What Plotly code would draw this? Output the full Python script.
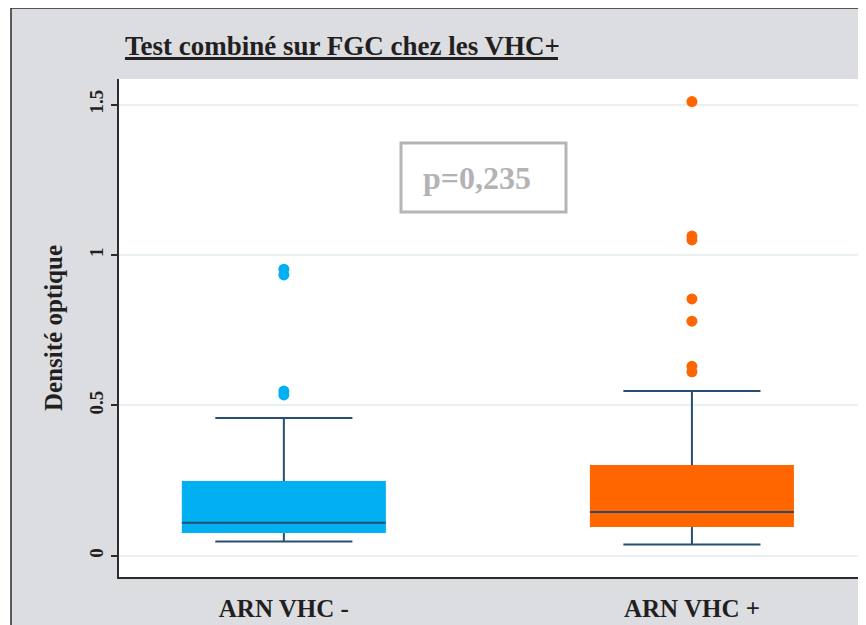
import plotly.graph_objects as go

categories = ["ARN VHC -", "ARN VHC +"]
positions = [1, 2]
q1 = [0.076, 0.096]
median = [0.110, 0.146]
q3 = [0.249, 0.302]
lower_whisker = [0.048, 0.038]
upper_whisker = [0.458, 0.548]
outliers_neg = [0.953, 0.934, 0.548, 0.535]
outliers_pos = [1.510, 1.063, 1.050, 0.854, 0.780, 0.630, 0.612]
colors = ["#00b0f0", "#ff6600"]
p_label = "p=0,235"

LINE = "#274e72"
FONT = "Liberation Serif"
TXT = "#231f20"
box_w = 0.50
cap_w = 0.336

# page has an 8px body margin: figure coordinates = page coordinates - 8
W, H = 858, 617
L, R, T, B = 111, 8, 71, 48
PW, PH = W - L - R, H - T - B


def px(xp):
    return (xp - 8 - L) / PW


def py(yp):
    return (H - B - (yp - 8)) / PH


fig = go.Figure()

# box bodies
for i in range(2):
    fig.add_trace(go.Bar(x=[positions[i]], base=[q1[i]], y=[q3[i] - q1[i]], width=box_w,
                         marker=dict(color=colors[i], line=dict(width=0)), showlegend=False,
                         hoverinfo="skip"))

# medians, whiskers, caps
for i in range(2):
    x = positions[i]
    segs = [
        ([x - box_w / 2, x + box_w / 2], [median[i], median[i]]),
        ([x, x], [q3[i], upper_whisker[i]]),
        ([x, x], [q1[i], lower_whisker[i]]),
        ([x - cap_w / 2, x + cap_w / 2], [upper_whisker[i], upper_whisker[i]]),
        ([x - cap_w / 2, x + cap_w / 2], [lower_whisker[i], lower_whisker[i]]),
    ]
    for xs, ys in segs:
        fig.add_trace(go.Scatter(x=xs, y=ys, mode="lines", line=dict(color=LINE, width=2),
                                 showlegend=False, hoverinfo="skip"))

# outliers
for i, pts in enumerate([outliers_neg, outliers_pos]):
    fig.add_trace(go.Scatter(x=[positions[i]] * len(pts), y=pts, mode="markers",
                             marker=dict(color=colors[i], size=11, line=dict(width=0)),
                             showlegend=False))

# outer gray panel
fig.add_shape(type="rect", xref="paper", yref="paper", x0=px(11), x1=px(880), y0=py(640), y1=py(8),
              fillcolor="#dcdde0", line=dict(color="#2b2b2b", width=1.5), layer="below")
# white plot area
fig.add_shape(type="rect", xref="paper", yref="paper", x0=0, x1=1, y0=0, y1=1,
              fillcolor="white", line=dict(width=0), layer="below")
# title underline
fig.add_shape(type="line", xref="paper", yref="paper", x0=px(125), x1=px(558),
              y0=py(58.5), y1=py(58.5), line=dict(color=TXT, width=3))

# p-value box
fig.add_shape(type="rect", xref="paper", yref="paper", x0=px(401), x1=px(566), y0=py(212), y1=py(143),
              fillcolor="rgba(0,0,0,0)", line=dict(color="#b5b5b7", width=3))
fig.add_annotation(xref="paper", yref="paper", x=px(477), y=py(178), xanchor="center", yanchor="middle",
                   text="<b>" + p_label + "</b>",
                   showarrow=False, font=dict(family=FONT, size=32, color="#b3b3b5"))

fig.update_layout(
    width=W, height=H,
    margin=dict(l=L, r=R, t=T, b=B, autoexpand=False),
    paper_bgcolor="white", plot_bgcolor="white",
    barmode="overlay",
    title=dict(text="<b>Test combiné sur FGC chez les VHC+</b>", x=(125 - 8) / W, xanchor="left",
               y=1 - (46 - 8) / H, yanchor="middle", pad=dict(l=0, r=0, t=0, b=0),
               font=dict(family=FONT, size=27, color=TXT)),
    xaxis=dict(range=[0.596, 2.407], tickvals=positions, ticktext=["<b>%s</b>" % c for c in categories],
               showgrid=False, zeroline=False, showline=True, linecolor="#2b2b2b", linewidth=2,
               automargin=False,
               ticks="", ticklabelstandoff=8, tickfont=dict(family=FONT, size=25, color=TXT)),
    yaxis=dict(range=[-0.07, 1.585], tickvals=[0, 0.5, 1, 1.5],
               ticktext=["<b>0</b>", "<b>0.5</b>", "<b>1</b>", "<b>1.5</b>"],
               tickangle=-90, ticks="outside", ticklen=6, tickcolor="#2b2b2b", tickwidth=1.5,
               showline=True, linecolor="#2b2b2b", linewidth=1.5, zeroline=False,
               showgrid=True, gridcolor="#e9f0f0", gridwidth=1.5, automargin=False,
               ticklabelstandoff=1, tickfont=dict(family=FONT, size=19, color=TXT),
               title=dict(text="<b>Densité optique</b>", standoff=16,
                          font=dict(family=FONT, size=25, color=TXT))),
)

fig.write_html("out.html")
